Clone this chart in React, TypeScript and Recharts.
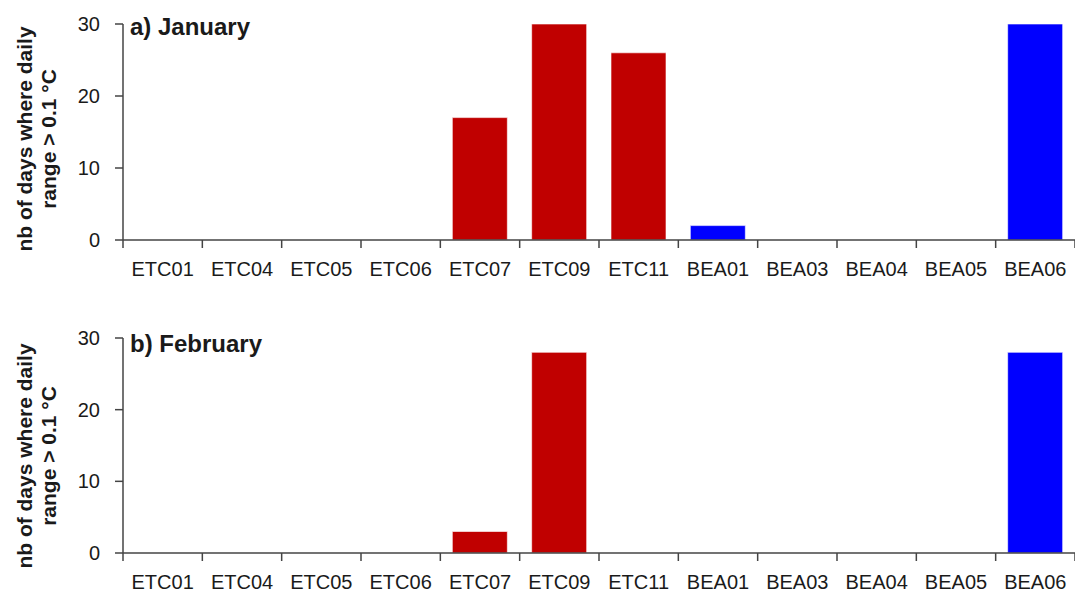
import { BarChart, Bar, Cell, XAxis, YAxis } from "recharts";

// station codes along the x axis
const categories = [
  "ETC01",
  "ETC04",
  "ETC05",
  "ETC06",
  "ETC07",
  "ETC09",
  "ETC11",
  "BEA01",
  "BEA03",
  "BEA04",
  "BEA05",
  "BEA06",
];

// nb of days where daily range > 0.1 °C
const januaryDays = [0, 0, 0, 0, 17, 30, 26, 2, 0, 0, 0, 30];
const februaryDays = [0, 0, 0, 0, 3, 28, 0, 0, 0, 0, 0, 28];

const yTicks = [0, 10, 20, 30];
const yLabelLines = ["nb of days where daily", "range > 0.1 °C"];

const RED = "#C00000";
const BLUE = "#0000FF";
const AXIS = "#444444";
const TEXT = "#1a1a1a";
const FONT = "'Liberation Sans', Arial, sans-serif";

const WIDTH = 1075;
const Y_AXIS_WIDTH = 123;
const BAND = (WIDTH - Y_AXIS_WIDTH) / categories.length;

const toRows = (values: number[]) =>
  categories.map((name, i) => ({ name, days: values[i] }));

// tick label in the middle of the band, tick mark on the band edges
const CategoryTick = (props: any) => {
  const { x, y, payload } = props;
  const left = x - BAND / 2;
  const isLast = payload.value === categories[categories.length - 1];
  return (
    <g>
      <line x1={left} x2={left} y1={y - 22} y2={y - 14} stroke={AXIS} strokeWidth={1.5} />
      {isLast && (
        <line
          x1={x + BAND / 2}
          x2={x + BAND / 2}
          y1={y - 22}
          y2={y - 14}
          stroke={AXIS}
          strokeWidth={1.5}
        />
      )}
      <text
        x={x}
        y={y}
        dy="0.71em"
        textAnchor="middle"
        fill={TEXT}
        fontSize={20}
        fontFamily={FONT}
      >
        {payload.value}
      </text>
    </g>
  );
};

const makeYLabel = (centerY: number) => () =>
  (
    <g>
      {yLabelLines.map((line, i) => {
        const cx = 25 + i * 24;
        return (
          <text
            key={line}
            x={cx}
            y={centerY}
            dy="0.35em"
            textAnchor="middle"
            transform={`rotate(-90, ${cx}, ${centerY})`}
            fontSize={21}
            fontWeight="bold"
            fontFamily={FONT}
            fill={TEXT}
          >
            {line}
          </text>
        );
      })}
    </g>
  );

interface PanelProps {
  values: number[];
  title: string;
  top: number;
  height: number;
  marginTop: number;
  xAxisHeight: number;
  labelY: number;
  titleTop: number;
}

const Panel = ({ values, title, top, height, marginTop, xAxisHeight, labelY, titleTop }: PanelProps) => {
  const rows = toRows(values);
  return (
    <div style={{ position: "absolute", left: 0, top, width: WIDTH, height }}>
      <BarChart
        width={WIDTH}
        height={height}
        data={rows}
        margin={{ top: marginTop, right: 0, bottom: 0, left: 0 }}
        barSize={55}
      >
        <XAxis
          dataKey="name"
          height={xAxisHeight}
          interval={0}
          axisLine={{ stroke: AXIS, strokeWidth: 1.5 }}
          tickLine={false}
          tickSize={8}
          tickMargin={14}
          tick={<CategoryTick />}
        />
        <YAxis
          width={Y_AXIS_WIDTH}
          domain={[0, 30]}
          ticks={yTicks}
          interval={0}
          axisLine={{ stroke: AXIS, strokeWidth: 1.5 }}
          tickLine={{ stroke: AXIS, strokeWidth: 1.5 }}
          tickSize={8}
          tickMargin={15}
          tick={{ fill: TEXT, fontSize: 20, fontFamily: FONT }}
          label={{ content: makeYLabel(labelY) }}
        />
        <Bar dataKey="days" isAnimationActive={false} stroke="#ffffff" strokeOpacity={0.6} strokeWidth={1}>
          {rows.map((row, index) => (
            <Cell key={`cell-${index}`} fill={row.name.startsWith("ETC") ? RED : BLUE} />
          ))}
        </Bar>
      </BarChart>
      <div
        style={{
          position: "absolute",
          left: 130,
          top: titleTop,
          fontFamily: FONT,
          fontWeight: "bold",
          fontSize: 24,
          lineHeight: 1,
          color: TEXT,
          whiteSpace: "nowrap",
        }}
      >
        {title}
      </div>
    </div>
  );
};

export default function App() {
  return (
    <div style={{ position: "absolute", left: 0, top: 0, width: WIDTH, height: 598, background: "#fff" }}>
      <Panel
        values={januaryDays}
        title="a) January"
        top={0}
        height={300}
        marginTop={24}
        xAxisHeight={60}
        labelY={139}
        titleTop={15}
      />
      <Panel
        values={februaryDays}
        title="b) February"
        top={300}
        height={298}
        marginTop={38}
        xAxisHeight={45}
        labelY={156}
        titleTop={32}
      />
    </div>
  );
}
